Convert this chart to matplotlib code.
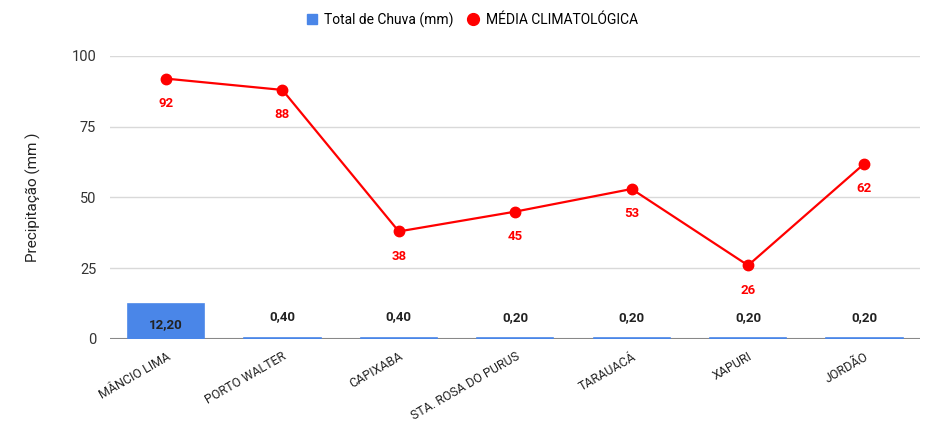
import matplotlib.pyplot as plt
from matplotlib.lines import Line2D
import numpy as np

plt.rcParams['font.family'] = ['Roboto', 'DejaVu Sans']

# data
cidades = ['MÂNCIO LIMA', 'PORTO WALTER', 'CAPIXABA', 'STA. ROSA DO PURUS',
           'TARAUACÁ', 'XAPURI', 'JORDÃO']
total_chuva = [12.20, 0.40, 0.40, 0.20, 0.20, 0.20, 0.20]
media_clima = [92, 88, 38, 45, 53, 26, 62]
yticks = [0, 25, 50, 75, 100]

fig = plt.figure(figsize=(9.25, 4.25), dpi=100)
ax = fig.add_axes([0.119, 0.2024, 0.876, 0.6659])

x = np.arange(len(cidades))

# grid
for t in yticks[1:]:
    ax.axhline(t, color='#d9d9d9', lw=1, zorder=0)
ax.axhline(0, color='#888888', lw=1.5, zorder=1)

ax.bar(x, total_chuva, width=0.655, color='#4a86e8', edgecolor='#4a86e8',
       linewidth=1.2, zorder=2)
for xi, v in zip(x, total_chuva):
    off = -14.5 if v > 7 else 15
    ax.annotate(f'{v:.2f}'.replace('.', ','), (xi, v), xytext=(0, off),
                textcoords='offset points', ha='center', va='center',
                fontsize=9.5, fontweight='bold', color='#222222')

ax.plot(x, media_clima, color='#ff0000', lw=1.6, marker='o', markersize=7.5,
        zorder=4, clip_on=False)
for xi, v in zip(x, media_clima):
    ax.annotate(str(v), (xi, v), xytext=(0, -18), textcoords='offset points',
                ha='center', va='center', fontsize=9.5, fontweight='bold',
                color='#ff0000')

ax.set_xlim(-0.48, 6.48)
ax.set_ylim(0, 100)
ax.set_yticks(yticks)
ax.set_yticklabels([str(t) for t in yticks], fontsize=10.5, color='#333333')
ax.set_xticks(x)
ax.set_xticklabels(cidades, rotation=30, ha='right', rotation_mode='anchor',
                   fontsize=9, color='#222222')
ax.tick_params(length=0)
ax.tick_params(axis='x', pad=8)
ax.tick_params(axis='y', pad=10)
for s in ax.spines.values():
    s.set_visible(False)

ax.set_ylabel('Precipitação (mm )', fontsize=11, color='#222222', labelpad=22)

handles = [
    Line2D([], [], ls='none', marker='s', markersize=7.5, color='#4a86e8'),
    Line2D([], [], ls='none', marker='o', markersize=8.5, color='#ff0000'),
]
fig.legend(handles, ['Total de Chuva (mm)', 'MÉDIA CLIMATOLÓGICA'],
           loc='center', bbox_to_anchor=(0.51, 0.953), ncol=2, frameon=False,
           fontsize=10, handlelength=0.8, handletextpad=0.5, columnspacing=1.0)

plt.savefig('out.png', dpi=100)
